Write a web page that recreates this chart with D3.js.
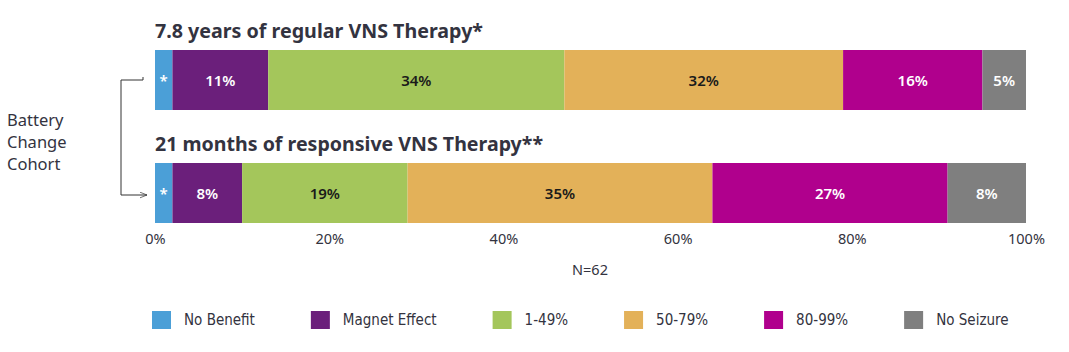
<!DOCTYPE html>
<html>
<head>
<meta charset="utf-8">
<script src="https://cdn.jsdelivr.net/npm/d3@7"></script>
<style>
  body { margin: 0; background: #fff; }
  svg { display: block; }
</style>
</head>
<body>
<svg width="1069" height="352"></svg>
<script>
// data
var categories = ['No Benefit', 'Magnet Effect', '1-49%', '50-79%', '80-99%', 'No Seizure'];
var colors = ['#4b9fd7', '#6b1f7b', '#a4c65b', '#e3b159', '#b0008d', '#7f7f7f'];
var rowTitles = ['7.8 years of regular VNS Therapy*', '21 months of responsive VNS Therapy**'];
var regularValues = [2, 11, 34, 32, 16, 5];
var responsiveValues = [2, 8, 19, 35, 27, 9];
var regularLabels = ['*', '11%', '34%', '32%', '16%', '5%'];
var responsiveLabels = ['*', '8%', '19%', '35%', '27%', '8%'];
var ticks = [0, 20, 40, 60, 80, 100];
var darkText = [false, false, true, true, false, false];

var rows = [
    {title: rowTitles[0], values: regularValues, labels: regularLabels},
    {title: rowTitles[1], values: responsiveValues, labels: responsiveLabels}
];

var svg = d3.select('svg');
var textColor = '#333340';
var bh = 60;

var ScaleX = d3.scaleLinear().domain([0, 100]).range([155, 1026]);
var ScaleY = d3.scaleLinear().domain([0, 1]).range([50, 163]);

rows.forEach(function(row, i){
    var y0 = ScaleY(i);
    var stacked = d3.cumsum(row.values);
    var segs = row.values.map(function(v, j){
        return {start: stacked[j] - v, end: stacked[j], label: row.labels[j], k: j};
    });

    svg.append('text')
        .attr('x', ScaleX(0))
        .attr('y', y0 - 12)
        .attr('font-family', 'Noto Sans, sans-serif')
        .attr('font-weight', 700)
        .attr('font-size', 20)
        .attr('fill', textColor)
        .attr('textLength', i === 0 ? 328 : 388)
        .attr('lengthAdjust', 'spacingAndGlyphs')
        .text(row.title);

    var g = svg.append('g');
    g.selectAll('rect')
        .data(segs)
        .enter()
        .append('rect')
        .attr('x', function(d){ return ScaleX(d.start); })
        .attr('y', y0)
        .attr('width', function(d){ return ScaleX(d.end) - ScaleX(d.start); })
        .attr('height', bh)
        .attr('fill', function(d){ return colors[d.k]; });

    g.selectAll('text')
        .data(segs)
        .enter()
        .append('text')
        .attr('x', function(d){ return (ScaleX(d.start) + ScaleX(d.end)) / 2; })
        .attr('y', y0 + bh / 2 + 5.5)
        .attr('text-anchor', 'middle')
        .attr('font-family', 'Noto Sans, sans-serif')
        .attr('font-weight', 600)
        .attr('font-size', 15)
        .attr('fill', function(d){ return darkText[d.k] ? '#1a1a1a' : '#fff'; })
        .text(function(d){ return d.label; });
});

// axis
var axis = svg.append('g')
    .attr('transform', 'translate(0,' + (ScaleY(1) + bh) + ')')
    .call(d3.axisBottom(ScaleX).tickValues(ticks).tickSize(0).tickPadding(11)
        .tickFormat(function(d){ return d + '%'; }));
axis.select('.domain').remove();
axis.selectAll('text')
    .attr('font-family', 'Noto Sans, sans-serif')
    .attr('font-size', 14.5)
    .attr('fill', textColor);

svg.append('text')
    .attr('x', 590)
    .attr('y', 275)
    .attr('text-anchor', 'middle')
    .attr('font-family', 'Noto Sans, sans-serif')
    .attr('font-size', 14.5)
    .attr('fill', textColor)
    .text('N=62');

// left cohort label
var cohort = svg.append('text')
    .attr('font-family', 'Noto Sans, sans-serif')
    .attr('font-size', 16.5)
    .attr('fill', textColor);
['Battery', 'Change', 'Cohort'].forEach(function(t, i){
    cohort.append('tspan').attr('x', 7).attr('y', 126 + i * 22).text(t);
});

// bracket
var defs = svg.append('defs');
defs.append('marker')
    .attr('id', 'arr')
    .attr('viewBox', '0 0 10 10')
    .attr('refX', 10).attr('refY', 5)
    .attr('markerWidth', 7).attr('markerHeight', 7)
    .attr('markerUnits', 'userSpaceOnUse')
    .attr('orient', 'auto')
    .append('path')
    .attr('d', 'M0,1 L10,5 L0,9')
    .attr('fill', 'none')
    .attr('stroke', '#333');

var yTop = ScaleY(0) + 30, yBot = ScaleY(1) + 32;
svg.append('path')
    .attr('d', 'M143,' + (yTop - 3) + ' V' + yTop + ' H121 V' + yBot + ' H147')
    .attr('fill', 'none')
    .attr('stroke', '#333')
    .attr('stroke-width', 1)
    .attr('marker-end', 'url(#arr)');

// legend
var legend = svg.append('g').attr('transform', 'translate(152,311)');
var lx = 0;
categories.forEach(function(c, i){
    legend.append('rect')
        .attr('x', lx).attr('y', 0)
        .attr('width', 19).attr('height', 18)
        .attr('fill', colors[i]);
    var t = legend.append('text')
        .attr('x', lx + 32)
        .attr('y', 14)
        .attr('font-family', 'DejaVu Sans Condensed, Noto Sans, sans-serif')
        .attr('font-stretch', 'condensed')
        .attr('font-size', 15)
        .attr('fill', textColor)
        .text(c);
    lx = lx + 32 + t.node().getComputedTextLength() + 56;
});
</script>
</body>
</html>
